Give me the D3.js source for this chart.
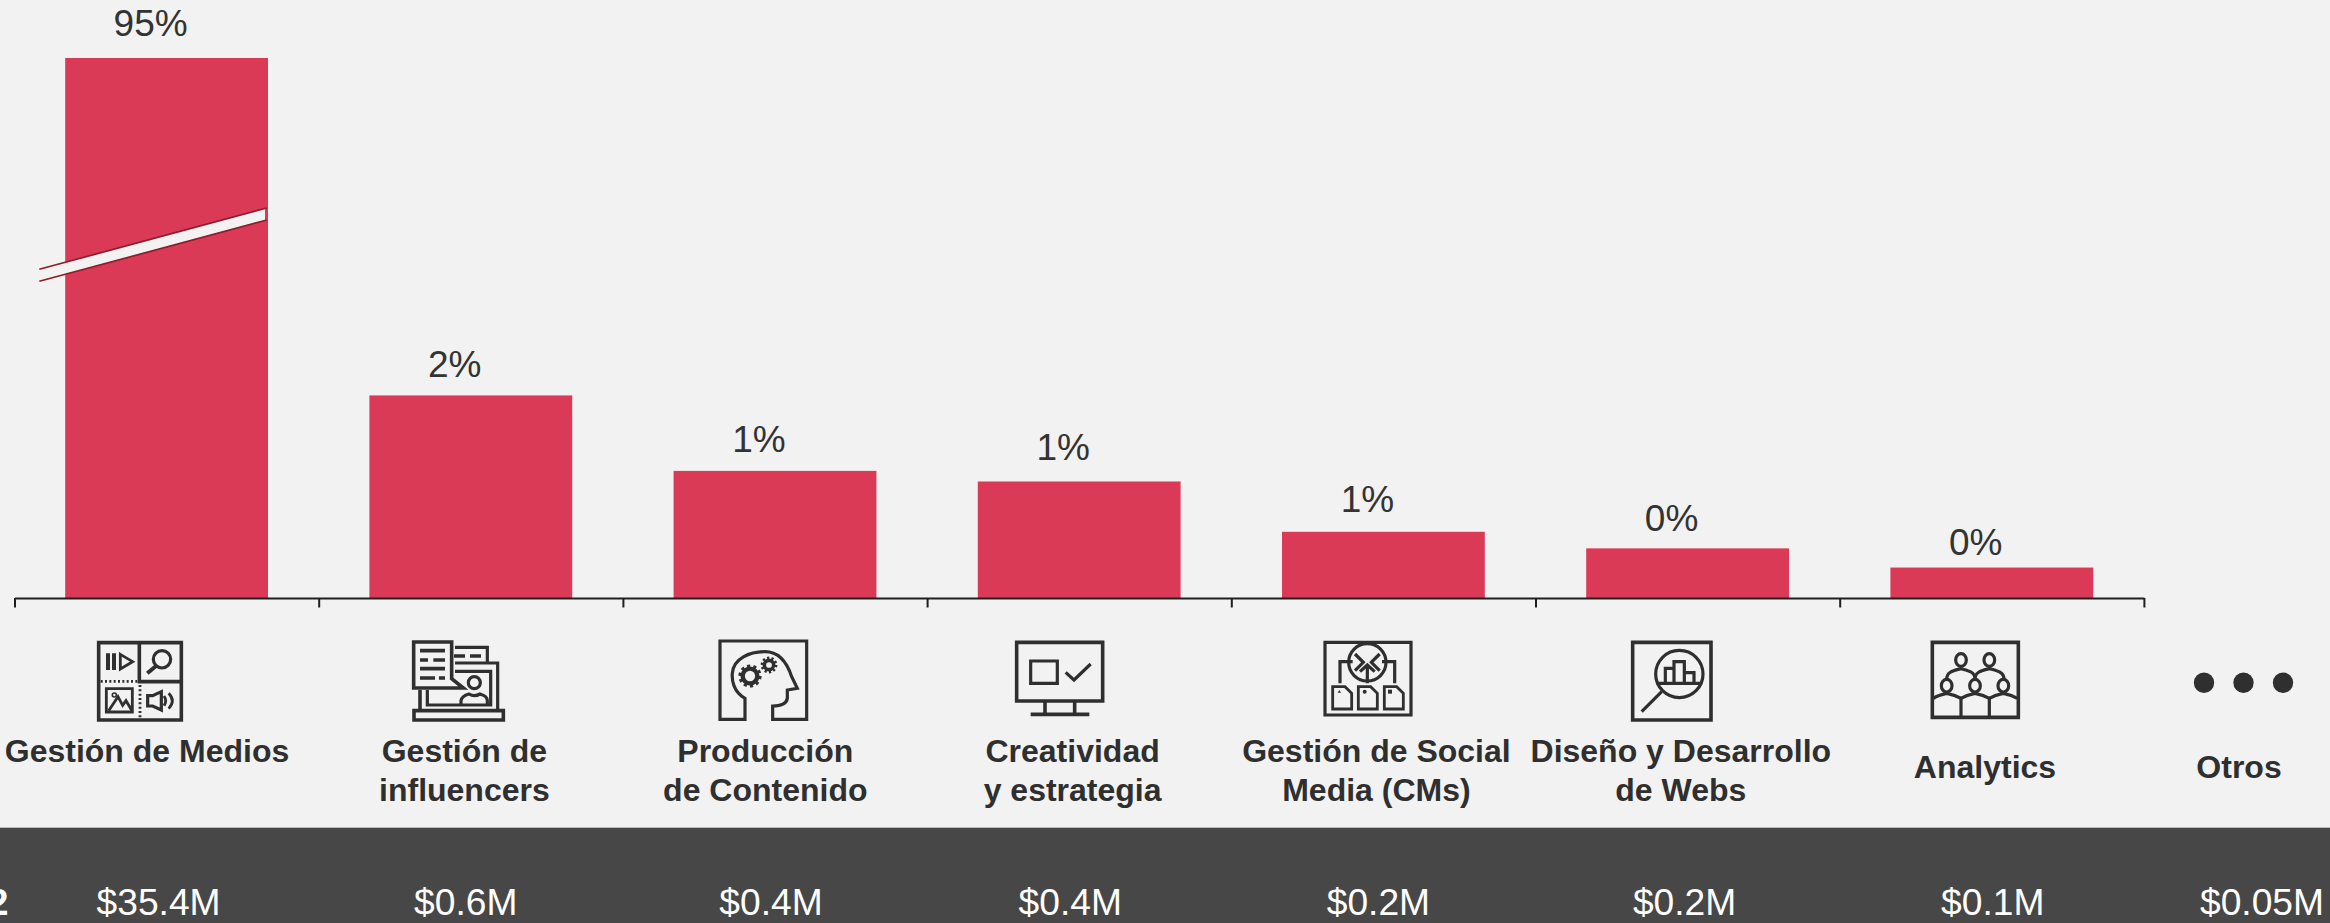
<!DOCTYPE html>
<html lang="es">
<head>
<meta charset="utf-8">
<title>Inversión por servicio</title>
<script src="https://cdn.jsdelivr.net/npm/d3@7"></script>
<style>
  html, body { margin: 0; padding: 0; background: #f2f2f2; overflow: hidden; }
  svg { display: block; font-family: "Liberation Sans", Arial, sans-serif; }
</style>
</head>
<body>
<svg id="chart" width="2330" height="923"></svg>
<script>
// Data: spend per service, in millions of dollars
const categories = ["Gestión de Medios", "Gestión de influencers", "Producción de Contenido",
  "Creatividad y estrategia", "Gestión de Social Media (CMs)", "Diseño y Desarrollo de Webs",
  "Analytics", "Otros"];
const captionLines = [["Gestión de Medios"], ["Gestión de", "influencers"], ["Producción", "de Contenido"],
  ["Creatividad", "y estrategia"], ["Gestión de Social", "Media (CMs)"], ["Diseño y Desarrollo", "de Webs"],
  ["Analytics"], ["Otros"]];
const spend = [35.4, 0.612, 0.384, 0.352, 0.2, 0.15, 0.092];
const spendLabels = ["$35.4M", "$0.6M", "$0.4M", "$0.4M", "$0.2M", "$0.2M", "$0.1M", "$0.05M"];
const shareLabels = ["95%", "2%", "1%", "1%", "1%", "0%", "0%"];
const rowLabel = "2";

// Layout
const baseline = 598, plotLeft = 14.5, step = 304.2;
const shareNudge = -16;
const shareGap = [22.5, 18.7, 18.7, 21.7, 20.2, 17.3, 12.7];
const captionNudge = [-19.6, -6.4, -9.7, -6.6, -7, -6.8, -6.8, -57];
const captionDrop = [0, 0.5, 0.5, 0.5, 0.5, 0.5, 16.5, 16.5];
const spendNudge = [-8, -5, -4, -9, -5, -3, 1, -34];
const ink = "#2f2f2f", bar = "#da3a56", breakInk = "#8e1c2c", paper = "#f2f2f2", band = "#474747";

const svg = d3.select("#chart");
svg.append("rect").attr("width", 2330).attr("height", 923).attr("fill", paper);

const x = d3.scaleBand().domain(categories)
  .range([plotLeft, plotLeft + step * categories.length])
  .paddingInner(1 / 3).paddingOuter(1 / 6);
const centre = (i) => x(categories[i]) + x.bandwidth() / 2;

// The value axis is broken: linear up to $1M, compressed above it
const y = d3.scaleLinear().domain([0, 1, 35.4]).range([baseline, baseline - 331, 58]);

// Bars
svg.append("g").selectAll("rect").data(spend).join("rect")
  .attr("x", (d, i) => x(categories[i]))
  .attr("y", (d) => y(d))
  .attr("width", x.bandwidth())
  .attr("height", (d) => baseline - y(d))
  .attr("fill", bar);

// Break mark across the tallest bar
const breakG = svg.append("g");
breakG.append("path").attr("d", "M39.3,269.3L265,208.4V220.4L39.3,281.3Z").attr("fill", paper);
breakG.selectAll("line").data([0, 12]).join("line")
  .attr("x1", 39.3).attr("x2", 266.7)
  .attr("y1", (d) => 269.3 + d).attr("y2", (d) => 208 + d)
  .attr("stroke", breakInk).attr("stroke-width", 1.7);

// Share labels
svg.append("g").selectAll("text").data(shareLabels).join("text")
  .attr("x", (d, i) => centre(i) + shareNudge)
  .attr("y", (d, i) => y(spend[i]) - shareGap[i])
  .attr("text-anchor", "middle").attr("font-size", 37).attr("fill", "#333")
  .text((d) => d);

// Category axis with ticks on the band edges
const edges = d3.scalePoint().domain(d3.range(8)).range([plotLeft, plotLeft + step * 7]);
const axis = svg.append("g").attr("transform", `translate(0,${baseline})`)
  .call(d3.axisBottom(edges).tickSize(9.5).tickSizeOuter(0).tickFormat(""));
axis.selectAll("path,line").attr("stroke", "#1f1f1f").attr("stroke-width", 2);

// Category captions
const captions = svg.append("g").attr("font-weight", 700).attr("font-size", 32)
  .attr("fill", ink).attr("text-anchor", "middle");
captions.selectAll("text").data(captionLines).join("text")
  .attr("y", (d, i) => 761.7 + captionDrop[i])
  .each(function (lines, i) {
    d3.select(this).selectAll("tspan").data(lines).join("tspan")
      .attr("x", centre(i) + captionNudge[i])
      .attr("dy", (l, k) => (k ? 38.3 : 0))
      .text((l) => l);
  });

// Bottom band with the spend figures
svg.append("rect").attr("y", 827.7).attr("width", 2330).attr("height", 95.3).attr("fill", band);
svg.append("g").selectAll("text").data(spendLabels).join("text")
  .attr("x", (d, i) => centre(i) + spendNudge[i])
  .attr("y", 915).attr("text-anchor", "middle").attr("font-size", 37.2).attr("fill", "#fff")
  .text((d) => d);
svg.append("text").attr("x", 8.5).attr("y", 915).attr("text-anchor", "end")
  .attr("font-size", 37.2).attr("font-weight", 700).attr("fill", "#fff").text(rowLabel);

// Pictograms, drawn at 3x in their own frame
const weight = 1.2;
function icon(ox, oy) {
  return svg.append("g").attr("transform", `translate(${ox},${oy}) scale(${1 / 3})`)
    .attr("fill", "none").attr("stroke", ink).attr("stroke-width", 9 * weight);
}
function put(g, d, sw, fill) {
  const p = g.append("path").attr("d", d);
  if (sw) p.attr("stroke-width", sw * weight);
  if (fill) p.attr("fill", ink).attr("stroke", "none");
  return p;
}
function ring(g, cx, cy, r, sw) {
  return g.append("circle").attr("cx", cx).attr("cy", cy).attr("r", r).attr("stroke-width", sw * weight);
}

// Media grid
{
  const g = icon(80, 630);
  put(g, "M56,38H304V270H56Z");
  put(g, "M178,38V155H304");
  put(g, "M62,154H175", 7).attr("stroke-dasharray", "6 7");
  put(g, "M180,165V268", 7).attr("stroke-dasharray", "6 7");
  put(g, "M78,70H90V120H78ZM96,70H108V120H96Z", 0, true);
  put(g, "M121,73L158,95L121,117Z", 7);
  ring(g, 246, 88, 26, 8);
  put(g, "M228,108L202,130", 10);
  put(g, "M79,176H157V246H79Z", 7);
  ring(g, 103, 195, 6, 4);
  put(g, "M86,242L114,200L128,226L138,212L156,242", 7);
  put(g, "M203,197H218L244,185V240L218,228H203Z", 8);
  put(g, "M252,198Q262,212 252,227", 7);
  put(g, "M266,190Q288,212 266,236", 7);
}
// Influencer presenter
{
  const g = icon(400, 630);
  put(g, "M165,52H262V98", 8);
  put(g, "M162,78H195M210,78H243", 9);
  put(g, "M165,99H293V240", 8);
  put(g, "M165,124H272V225H82V180", 8);
  put(g, "M60,180V240", 9);
  put(g, "M42,242H310V270H42Z", 9);
  put(g, "M41,36H155V146L190,174H41Z", 9);
  put(g, "M60,62H135M60,90H84M100,90H135M60,116H135M60,144H105M117,144H135", 9);
  ring(g, 223, 158, 18, 8);
  put(g, "M183,222V212Q185,198 207,192Q223,202 240,192Q262,198 262,212V222", 8);
}
// Head with gears
{
  const g = icon(700, 630);
  put(g, "M135,268H60V33H320V268H218V228C245,228 260,220 262,205V180L292,175L275,140C265,110 245,65 195,65C150,65 100,85 97,130C95,150 100,185 135,205Z", 8);
  ring(g, 150, 138, 22, 11);
  ring(g, 150, 138, 30, 8).attr("stroke-dasharray", "9.4 9.4");
  ring(g, 207, 105, 14, 9);
  ring(g, 207, 105, 21, 7).attr("stroke-dasharray", "6.6 6.6");
}
// Monitor with checkbox
{
  const g = icon(1000, 630);
  put(g, "M50,37H308V213H50Z");
  put(g, "M92,93H172V160H92Z", 8);
  put(g, "M197,127L222,150L272,102", 8);
  put(g, "M135,213V253M224,213V253M92,253H268");
}
// Content flowing to a hub
{
  const g = icon(1310, 630);
  put(g, "M45,37H303V255H45Z", 8);
  ring(g, 172, 97, 56, 8);
  put(g, "M90,160V95H128M254,160V95H216M172,160V105", 8);
  put(g, "M135,72L160,97L135,122M209,72L184,97L209,122M150,125L172,105L194,125", 8);
  for (const dx of [0, 77, 155]) {
    put(g, `M${68 + dx},170H${105 + dx}L${125 + dx},190V237H${68 + dx}Z`, 7);
  }
  put(g, "M83,188L88,180L93,188Z", 0, true);
  g.append("circle").attr("cx", 164).attr("cy", 185).attr("r", 6).attr("fill", ink).attr("stroke", "none");
  put(g, "M234,179H246V191H234Z", 0, true);
}
// Magnifier over a bar chart
{
  const g = icon(1620, 630);
  put(g, "M38,37H273V270H38Z");
  ring(g, 178, 132, 71, 8);
  put(g, "M136,160V115H162M162,160V95H193V160M193,128H222V160M110,160H246", 8);
  put(g, "M125,185L65,245", 8);
}
// Team of five
{
  const g = icon(1920, 630);
  put(g, "M37,37H295V262H37Z");
  for (const [cx, cy] of [[123, 90], [208, 90], [80, 167], [165, 167], [250, 167]]) {
    g.append("ellipse").attr("cx", cx).attr("cy", cy).attr("rx", 16).attr("ry", 19).attr("stroke-width", 8 * weight);
  }
  put(g, "M80,148C80,125 100,122 123,116C145,122 165,125 165,148M165,148C165,125 185,122 208,116C230,122 252,125 252,148", 8);
  put(g, "M40,205Q55,195 80,190Q105,195 123,205Q140,195 165,190Q190,195 208,205Q225,195 250,190Q275,195 292,205", 8);
  put(g, "M123,205V260M208,205V260", 8);
}

// Ellipsis standing in for the remaining services
svg.append("g").selectAll("circle").data(d3.range(3)).join("circle")
  .attr("cx", (d) => 2204 + d * 39.5).attr("cy", 682.7).attr("r", 10.2).attr("fill", ink);
</script>
</body>
</html>
